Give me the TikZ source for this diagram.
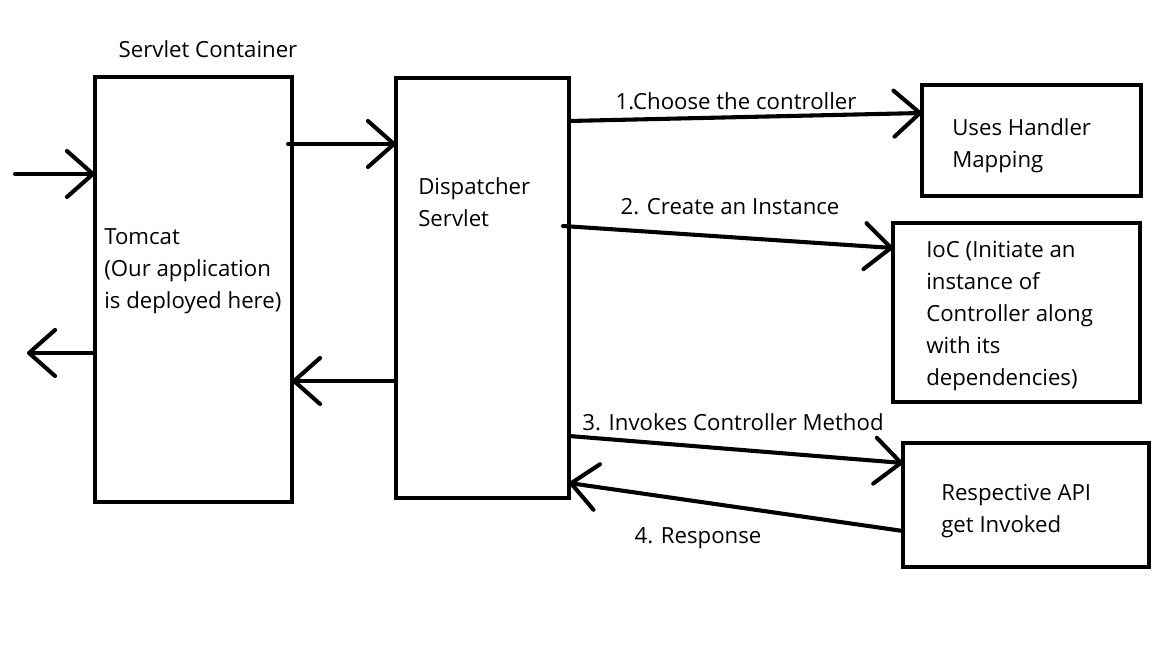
\documentclass[tikz,border=0pt]{standalone}
\usepackage{fontspec}
\setmainfont{Open Sans}
\usetikzlibrary{arrows.meta}
\newdimen\pxu \pxu=0.025cm
\tikzset{
  box/.style={draw=black, line width=2.9pt, inner sep=0pt, outer sep=0pt},
  txt/.style={anchor=west, align=left, inner sep=0pt, font=\fontsize{15.8}{22.7}\selectfont},
  lbl/.style={inner sep=0pt, font=\fontsize{15.8}{22.7}\selectfont},
  flow/.style={line width=2.9pt, line cap=round,
    -{Straight Barb[length=0.65cm, width=1.15cm, line cap=round, line join=round]}},
}
\begin{document}
\begin{tikzpicture}[x=\pxu, y=-\pxu]
\useasboundingbox (0,0) rectangle (1152,648);

% containers
\node[box, minimum width=197\pxu, minimum height=425\pxu] (tomcat) at (193.5,289.5) {};
\node[box, minimum width=173\pxu, minimum height=420\pxu] (disp) at (482.5,288) {};
\node[box, minimum width=219\pxu, minimum height=111\pxu] (hm) at (1031.5,140.5) {};
\node[box, minimum width=247\pxu, minimum height=179\pxu] (ioc) at (1016.5,312.5) {};
\node[box, minimum width=246\pxu, minimum height=124\pxu] (api) at (1026,505) {};

\node[lbl] (sc) at (208,49) {Servlet Container};
\node[txt] (tomcattxt) at (104,271) {Tomcat\\(Our application\\is deployed here)};
\node[txt] (disptxt) at (418,202) {Dispatcher\\Servlet};
\node[txt] (hmtxt) at (952,146) {Uses Handler\\Mapping};
\node[txt] (ioctxt) at (926,316) {IoC (Initiate an\\instance of\\Controller along\\with its\\dependencies)};
\node[txt] (apitxt) at (941,511) {Respective API\\get Invoked};

% request / response outside
\coordinate (in) at (15,174);
\coordinate (out) at (27,353);
\draw[flow] (in) -- (tomcat.west |- in);
\draw[flow] (tomcat.west |- out) -- (out);

% tomcat <-> dispatcher
\draw[flow] (288,144) -- (disp.west |- 0,144);
\draw[flow] (disp.west |- 0,381) -- (tomcat.east |- 0,381);

% dispatcher steps
\draw[flow] (disp.east |- 0,121) -- (hm.west |- 0,113);
\node[lbl] (l1) at (736,101) {1.Choose the controller};
\draw[flow] (563,226) -- (ioc.west |- 0,248);
\node[lbl] (l2) at (730,207) {2. Create an Instance};
\draw[flow] (disp.east |- 0,436) -- (api.west |- 0,463);
\node[lbl] (l3) at (733,422) {3. Invokes Controller Method};
\draw[flow] (api.west |- 0,531) -- (disp.east |- 0,483);
\node[lbl] (l4) at (698,538) {4. Response};

\end{tikzpicture}
\end{document}
